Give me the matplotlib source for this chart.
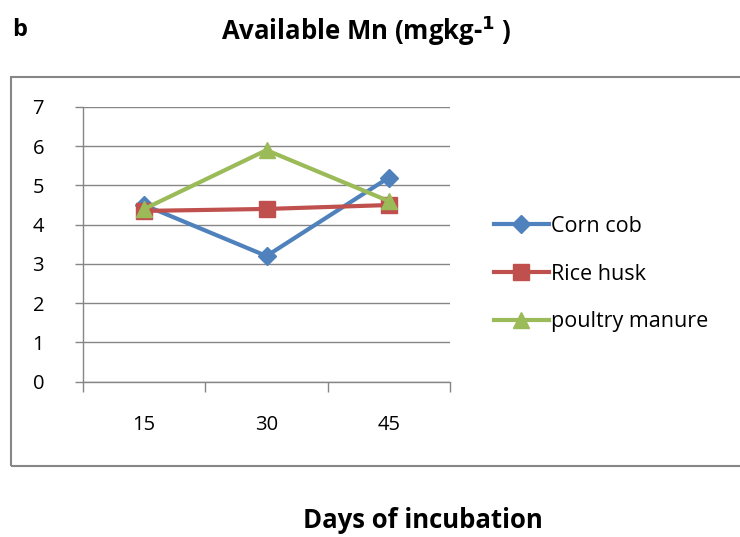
import matplotlib
matplotlib.use("Agg")
import matplotlib.pyplot as plt
from matplotlib.patches import Rectangle

plt.rcParams['font.family'] = ['Open Sans', 'DejaVu Sans']

categories = ["15", "30", "45"]
corn_cob = [4.5, 3.2, 5.2]
rice_husk = [4.35, 4.4, 4.5]
poultry_manure = [4.4, 5.9, 4.6]
series_names = ["Corn cob", "Rice husk", "poultry manure"]
y_ticks = [0, 1, 2, 3, 4, 5, 6, 7]

W, H = 740, 537
fig = plt.figure(figsize=(W / 100, H / 100), dpi=100)

# outer chart border
fig.patches.append(Rectangle((11 / W, 1 - 466 / H), (745 - 11) / W, (466 - 77) / H,
                             transform=fig.transFigure, fill=False,
                             edgecolor='#868686', linewidth=1.5, zorder=0))

ax = fig.add_axes([83 / W, 1 - 381.5 / H, (450 - 83) / W, (381.5 - 107) / H])

xs = [i + 0.5 for i in range(len(categories))]
ax.plot(xs, corn_cob, color='#4F81BD', lw=3, marker='D', ms=9, label=series_names[0], zorder=3)
ax.plot(xs, rice_husk, color='#C0504D', lw=3, marker='s', ms=11, label=series_names[1], zorder=3)
ax.plot(xs, poultry_manure, color='#9BBB59', lw=3, marker='^', ms=12, label=series_names[2], zorder=4)

ax.set_xlim(0, 3)
ax.set_ylim(0, 7)
ax.set_yticks(y_ticks)
ax.set_yticklabels([str(v) for v in y_ticks], fontsize=14.5)
ax.yaxis.grid(True, color='#868686', lw=1)
ax.set_axisbelow(True)

ax.set_xticks([0, 1, 2, 3])
ax.set_xticklabels([])
ax.set_xticks(xs, minor=True)
ax.set_xticklabels(categories, minor=True, fontsize=14.5)
ax.tick_params(axis='x', which='major', direction='out', length=7, color='#868686', width=1)
ax.tick_params(axis='x', which='minor', length=0, pad=24)
ax.tick_params(axis='y', direction='out', length=6, color='#868686', width=1, pad=22)

for s in ['top', 'right']:
    ax.spines[s].set_visible(False)
for s in ['left', 'bottom']:
    ax.spines[s].set_color('#868686')
    ax.spines[s].set_linewidth(1)

leg = fig.legend(loc='upper left', bbox_to_anchor=(485 / W, 1 - 207 / H),
                 frameon=False, fontsize=15.5, handlelength=2.55, handletextpad=0.1,
                 labelspacing=1.25, borderaxespad=0)

fig.text(12 / W, 1 - 30 / H, "b", fontsize=17, fontweight='bold', va='center', ha='left')
fig.text(366 / W, 1 - 31 / H, r"Available Mn (mgkg-$^{\mathbf{1}}$ )", fontsize=18.5,
         fontweight='bold', va='center', ha='center')
fig.text(423 / W, 1 - 520 / H, "Days of incubation", fontsize=18.5, fontweight='bold',
         va='center', ha='center')

fig.savefig("out.png", dpi=100)
